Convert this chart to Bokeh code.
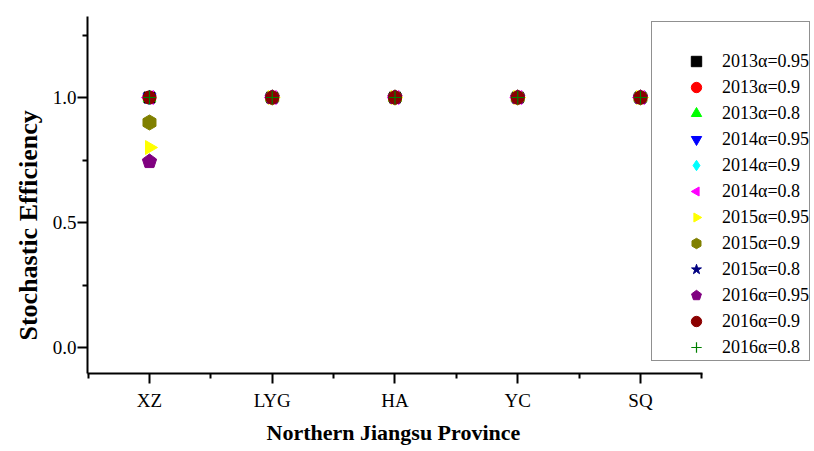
import numpy as np
from bokeh.plotting import figure
from bokeh.models import (ColumnDataSource, Legend, LegendItem, FixedTicker, Range1d, Title)
from bokeh.embed import file_html
from bokeh.resources import INLINE

provinces = ["XZ", "LYG", "HA", "YC", "SQ"]
xpos = [1, 2, 3, 4, 5]

series_names = ["2013\u03b1=0.95", "2013\u03b1=0.9", "2013\u03b1=0.8",
                "2014\u03b1=0.95", "2014\u03b1=0.9", "2014\u03b1=0.8",
                "2015\u03b1=0.95", "2015\u03b1=0.9", "2015\u03b1=0.8",
                "2016\u03b1=0.95", "2016\u03b1=0.9", "2016\u03b1=0.8"]

v2013_095 = [1.0, 1.0, 1.0, 1.0, 1.0]
v2013_09 = [1.0, 1.0, 1.0, 1.0, 1.0]
v2013_08 = [1.0, 1.0, 1.0, 1.0, 1.0]
v2014_095 = [1.0, 1.0, 1.0, 1.0, 1.0]
v2014_09 = [1.0, 1.0, 1.0, 1.0, 1.0]
v2014_08 = [1.0, 1.0, 1.0, 1.0, 1.0]
v2015_095 = [0.80, 1.0, 1.0, 1.0, 1.0]
v2015_09 = [0.90, 1.0, 1.0, 1.0, 1.0]
v2015_08 = [1.0, 1.0, 1.0, 1.0, 1.0]
v2016_095 = [0.744, 1.0, 1.0, 1.0, 1.0]
v2016_09 = [1.0, 1.0, 1.0, 1.0, 1.0]
v2016_08 = [1.0, 1.0, 1.0, 1.0, 1.0]

values = [v2013_095, v2013_09, v2013_08, v2014_095, v2014_09, v2014_08,
          v2015_095, v2015_09, v2015_08, v2016_095, v2016_09, v2016_08]

colors = ["#000000", "#FF0000", "#00FF00", "#0000FF", "#00FFFF", "#FF00FF",
          "#FFFF00", "#808000", "#000080", "#800080", "#8B0000", "#008000"]
shapes = [("square", None), ("circle", None), ("triangle", None),
          ("inverted_triangle", None), ("diamond", None), ("ngon", 3),
          ("ngon", 3), ("ngon", 6), ("star", None), ("ngon", 5),
          ("circle", None), ("cross", None)]
angles = [0, 0, 0, 0, 0, np.pi / 2, -np.pi / 2, 0, 0, 0, 0, 0]
sizes = [11, 13, 13, 13, 15, 8, 8, 7.5, 14, 7.5, 13, 13]

FONT = "Liberation Serif"

XMIN, XAXIS_END = 0.495, 5.505
p = figure(width=814, height=451, output_backend="svg", toolbar_location=None,
           x_range=Range1d(XMIN, XMIN + 727 / 122.75), y_range=Range1d(-0.104, 1.324),
           min_border_left=87, min_border_top=16, min_border_right=0,
           min_border_bottom=78)
p.outline_line_color = None
p.grid.visible = False
p.background_fill_color = "white"
p.border_fill_color = "white"

# invisible spacer entry at the top of the legend
spacer = p.scatter(x=[], y=[], marker="square", fill_alpha=0, line_alpha=0)
items = [LegendItem(label=" ", renderers=[spacer])]
for name, vals, col, (kind, n), ang, sz in zip(series_names, values, colors, shapes, angles, sizes):
    src = ColumnDataSource(dict(x=xpos, y=vals))
    if kind == "ngon":
        r = p.ngon(x="x", y="y", source=src, radius=sz, radius_units="screen", n=n,
                   angle=ang, fill_color=col, line_color=col)
    elif kind == "cross":
        r = p.scatter(x="x", y="y", source=src, marker="cross", size=sz,
                      line_color=col, line_width=1.2)
    else:
        r = p.scatter(x="x", y="y", source=src, marker=kind, size=sz,
                      fill_color=col, line_color=col)
    items.append(LegendItem(label=name, renderers=[r]))

legend = Legend(items=items, location=(564, 12), orientation="vertical",
                padding=0, spacing=0, glyph_width=40, glyph_height=26,
                label_height=26, label_standoff=6,
                label_text_font=FONT, label_text_font_size="18px",
                label_text_color="black",
                title=" ", title_location="left",
                title_text_font_size="14px", title_standoff=8,
                border_line_color="#222222", border_line_width=1,
                background_fill_color="white", background_fill_alpha=1)
p.add_layout(legend, "center")

# axes
p.xaxis.ticker = FixedTicker(ticks=xpos, minor_ticks=[0.5, 1.5, 2.5, 3.5, 4.5, 5.5])
p.xaxis.major_label_overrides = {x: lab for x, lab in zip(xpos, provinces)}
p.xaxis.bounds = (XMIN, XAXIS_END)
p.yaxis.ticker = FixedTicker(ticks=[0.0, 0.5, 1.0], minor_ticks=[0.25, 0.75, 1.25])
p.yaxis.major_label_overrides = {0.0: "0.0", 0.5: "0.5", 1.0: "1.0", 0: "0.0", 1: "1.0"}

for ax in (p.xaxis[0], p.yaxis[0]):
    ax.axis_line_width = 2
    ax.axis_line_color = "black"
    ax.major_tick_line_width = 2
    ax.minor_tick_line_width = 2
    ax.major_tick_in = 0
    ax.major_tick_out = 10
    ax.minor_tick_in = 0
    ax.minor_tick_out = 5
    ax.major_label_text_font = FONT
    ax.major_label_text_font_size = "19px"
    ax.major_label_text_color = "black"

p.xaxis.major_label_standoff = 6
p.yaxis.major_label_standoff = 1

# axis titles placed like the original (x centred under the axis line,
# y shifted towards the bottom)
xtitle = Title(text="Northern Jiangsu Province", align="left", offset=179,
               text_font=FONT, text_font_style="bold", text_font_size="22px",
               text_color="black", standoff=9, text_line_height=0.7)
p.add_layout(xtitle, "below")
ytitle = Title(text="Stochastic Efficiency", align="left", offset=33,
               text_font=FONT, text_font_style="bold", text_font_size="26px",
               text_color="black", standoff=14, text_line_height=0.7)
p.add_layout(ytitle, "left")

open("out.html", "w").write(file_html(p, INLINE))
